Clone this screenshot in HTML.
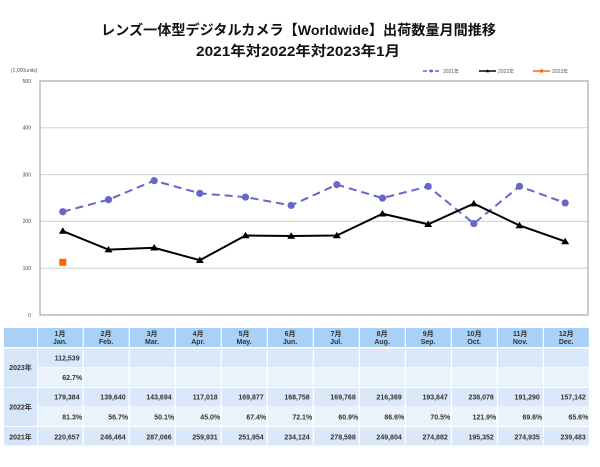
<!DOCTYPE html>
<html><head><meta charset="utf-8"><style>
html,body{margin:0;padding:0;background:#fff;}
svg{display:block;}
text{font-family:"Liberation Sans","Noto Sans CJK JP",sans-serif;}
</style></head><body>
<svg width="600" height="467" viewBox="0 0 600 467" xmlns="http://www.w3.org/2000/svg">
<rect width="600" height="467" fill="#fff"/>
<!-- Title -->
<text x="101" y="35" font-size="14" font-weight="bold" fill="#111" textLength="395" lengthAdjust="spacingAndGlyphs">レンズ一体型デジタルカメラ【Worldwide】出荷数量月間推移</text>
<text x="196" y="56" font-size="14" font-weight="bold" fill="#111" textLength="204" lengthAdjust="spacingAndGlyphs">2021年対2022年対2023年1月</text>

<!-- units -->
<text x="11" y="72" font-size="5" fill="#555">(1,000units)</text>

<!-- legend -->
<line x1="423" y1="71" x2="440" y2="71" stroke="#6666cc" stroke-width="1.5" stroke-dasharray="4,2"/>
<circle cx="431.5" cy="71" r="1.5" fill="#6666cc"/>
<text x="443" y="73" font-size="5" fill="#555">2021年</text>
<line x1="479" y1="71" x2="496" y2="71" stroke="#000" stroke-width="1.5"/>
<polygon points="487.5,69.3 489.3,72.3 485.7,72.3" fill="#000"/>
<text x="498" y="73" font-size="5" fill="#555">2022年</text>
<line x1="533" y1="71" x2="550" y2="71" stroke="#ff6600" stroke-width="1.5"/>
<rect x="540" y="69.5" width="3" height="3" fill="#ff6600"/>
<text x="552" y="73" font-size="5" fill="#555">2023年</text>

<!-- gridlines -->
<g stroke="#d0d0d0" stroke-width="1">
<line x1="40" y1="127.8" x2="588" y2="127.8"/>
<line x1="40" y1="174.6" x2="588" y2="174.6"/>
<line x1="40" y1="221.4" x2="588" y2="221.4"/>
<line x1="40" y1="268.2" x2="588" y2="268.2"/>
</g>
<rect x="40" y="81" width="548" height="234" fill="none" stroke="#aaaaaa" stroke-width="1.2"/>

<!-- y labels -->
<g font-size="5" fill="#444" text-anchor="end">
<text x="31" y="82.8">500</text>
<text x="31" y="129.6">400</text>
<text x="31" y="176.4">300</text>
<text x="31" y="223.2">200</text>
<text x="31" y="270">100</text>
<text x="31" y="316.8">0</text>
</g>

<!-- 2021 series -->
<polyline fill="none" stroke="#6666cc" stroke-width="2" stroke-dasharray="8,5"
points="62.83,211.73 108.5,199.65 154.17,180.65 199.83,193.35 245.5,197.09 291.17,205.43 336.83,184.62 382.5,198.09 428.17,186.36 473.83,223.58 519.5,186.33 565.17,202.92"/>
<g fill="#6666cc">
<circle cx="62.83" cy="211.73" r="3.6"/>
<circle cx="108.5" cy="199.65" r="3.6"/>
<circle cx="154.17" cy="180.65" r="3.6"/>
<circle cx="199.83" cy="193.35" r="3.6"/>
<circle cx="245.5" cy="197.09" r="3.6"/>
<circle cx="291.17" cy="205.43" r="3.6"/>
<circle cx="336.83" cy="184.62" r="3.6"/>
<circle cx="382.5" cy="198.09" r="3.6"/>
<circle cx="428.17" cy="186.36" r="3.6"/>
<circle cx="473.83" cy="223.58" r="3.6"/>
<circle cx="519.5" cy="186.33" r="3.6"/>
<circle cx="565.17" cy="202.92" r="3.6"/>
</g>

<!-- 2022 series -->
<polyline fill="none" stroke="#000" stroke-width="2"
points="62.83,231.05 108.5,249.65 154.17,247.75 199.83,260.24 245.5,235.5 291.17,236.02 336.83,235.55 382.5,213.74 428.17,224.28 473.83,203.58 519.5,225.48 565.17,241.46"/>
<g fill="#000">
<polygon points="62.83,227.3 66.8,233.8 58.86,233.8"/>
<polygon points="108.5,245.9 112.47,252.4 104.53,252.4"/>
<polygon points="154.17,244 158.14,250.5 150.2,250.5"/>
<polygon points="199.83,256.5 203.8,263 195.86,263"/>
<polygon points="245.5,231.75 249.47,238.25 241.53,238.25"/>
<polygon points="291.17,232.27 295.14,238.77 287.2,238.77"/>
<polygon points="336.83,231.8 340.8,238.3 332.86,238.3"/>
<polygon points="382.5,210 386.47,216.5 378.53,216.5"/>
<polygon points="428.17,220.53 432.14,227.03 424.2,227.03"/>
<polygon points="473.83,199.83 477.8,206.33 469.86,206.33"/>
<polygon points="519.5,221.73 523.47,228.23 515.53,228.23"/>
<polygon points="565.17,237.7 569.14,244.2 561.2,244.2"/>
</g>

<!-- 2023 -->
<rect x="59.3" y="258.8" width="7" height="7" fill="#ff6600"/>

<!-- Table backgrounds -->
<rect x="4" y="328" width="33" height="19" fill="#a9d0f5"/>
<rect x="4" y="348.5" width="33" height="38.5" fill="#d6e5f8"/>
<rect x="4" y="388" width="33" height="38" fill="#d6e5f8"/>
<rect x="4" y="427" width="33" height="18.5" fill="#d6e5f8"/>

<rect x="37.8" y="328" width="551" height="19" fill="#a9d0f5"/>
<rect x="37.8" y="348.5" width="551" height="18.5" fill="#dbe8f9"/>
<rect x="37.8" y="367.5" width="551" height="19.5" fill="#eaf2fc"/>
<rect x="37.8" y="388" width="551" height="18.5" fill="#dbe8f9"/>
<rect x="37.8" y="407" width="551" height="19" fill="#eaf2fc"/>
<rect x="37.8" y="427" width="551" height="18.5" fill="#dbe8f9"/>

<!-- white column separators -->
<g fill="#ffffff">
<rect x="82.6" y="328" width="1.2" height="118"/>
<rect x="128.62" y="328" width="1.2" height="118"/>
<rect x="174.64" y="328" width="1.2" height="118"/>
<rect x="220.66" y="328" width="1.2" height="118"/>
<rect x="266.68" y="328" width="1.2" height="118"/>
<rect x="312.7" y="328" width="1.2" height="118"/>
<rect x="358.72" y="328" width="1.2" height="118"/>
<rect x="404.74" y="328" width="1.2" height="118"/>
<rect x="450.76" y="328" width="1.2" height="118"/>
<rect x="496.78" y="328" width="1.2" height="118"/>
<rect x="542.8" y="328" width="1.2" height="118"/>
</g>

<!-- row labels -->
<g font-size="7" fill="#333" text-anchor="middle" font-weight="bold">
<text x="20.5" y="370">2023年</text>
<text x="20.5" y="409.5">2022年</text>
<text x="20.5" y="439.5">2021年</text>
</g>

<!-- header text -->
<g font-size="7" fill="#333" text-anchor="middle" font-weight="bold">
<text x="60.0" y="336">1月</text><text x="60.0" y="344">Jan.</text>
<text x="106.02" y="336">2月</text><text x="106.02" y="344">Feb.</text>
<text x="152.04" y="336">3月</text><text x="152.04" y="344">Mar.</text>
<text x="198.06" y="336">4月</text><text x="198.06" y="344">Apr.</text>
<text x="244.08" y="336">5月</text><text x="244.08" y="344">May.</text>
<text x="290.1" y="336">6月</text><text x="290.1" y="344">Jun.</text>
<text x="336.12" y="336">7月</text><text x="336.12" y="344">Jul.</text>
<text x="382.14" y="336">8月</text><text x="382.14" y="344">Aug.</text>
<text x="428.16" y="336">9月</text><text x="428.16" y="344">Sep.</text>
<text x="474.18" y="336">10月</text><text x="474.18" y="344">Oct.</text>
<text x="520.2" y="336">11月</text><text x="520.2" y="344">Nov.</text>
<text x="566.22" y="336">12月</text><text x="566.22" y="344">Dec.</text>
</g>

<!-- data text -->
<g font-size="7" fill="#333" text-anchor="end" font-weight="bold">
<!-- 2023 -->
<text x="79.6" y="360.5">112,539</text>
<text x="82.1" y="380">62.7%</text>
<!-- 2022 numbers -->
<text x="79.6" y="399.5">179,384</text>
<text x="125.62" y="399.5">139,640</text>
<text x="171.64" y="399.5">143,694</text>
<text x="217.66" y="399.5">117,018</text>
<text x="263.68" y="399.5">169,877</text>
<text x="309.7" y="399.5">168,758</text>
<text x="355.72" y="399.5">169,768</text>
<text x="401.74" y="399.5">216,369</text>
<text x="447.76" y="399.5">193,847</text>
<text x="493.78" y="399.5">238,078</text>
<text x="539.8" y="399.5">191,290</text>
<text x="585.82" y="399.5">157,142</text>
<!-- 2022 percents -->
<text x="82.1" y="419.5">81.3%</text>
<text x="128.12" y="419.5">56.7%</text>
<text x="174.14" y="419.5">50.1%</text>
<text x="220.16" y="419.5">45.0%</text>
<text x="266.18" y="419.5">67.4%</text>
<text x="312.2" y="419.5">72.1%</text>
<text x="358.22" y="419.5">60.9%</text>
<text x="404.24" y="419.5">86.6%</text>
<text x="450.26" y="419.5">70.5%</text>
<text x="496.28" y="419.5">121.9%</text>
<text x="542.3" y="419.5">69.6%</text>
<text x="588.32" y="419.5">65.6%</text>
<!-- 2021 numbers -->
<text x="79.6" y="439.5">220,657</text>
<text x="125.62" y="439.5">246,464</text>
<text x="171.64" y="439.5">287,066</text>
<text x="217.66" y="439.5">259,931</text>
<text x="263.68" y="439.5">251,954</text>
<text x="309.7" y="439.5">234,124</text>
<text x="355.72" y="439.5">278,598</text>
<text x="401.74" y="439.5">249,804</text>
<text x="447.76" y="439.5">274,882</text>
<text x="493.78" y="439.5">195,352</text>
<text x="539.8" y="439.5">274,935</text>
<text x="585.82" y="439.5">239,483</text>
</g>
</svg>
</body></html>
